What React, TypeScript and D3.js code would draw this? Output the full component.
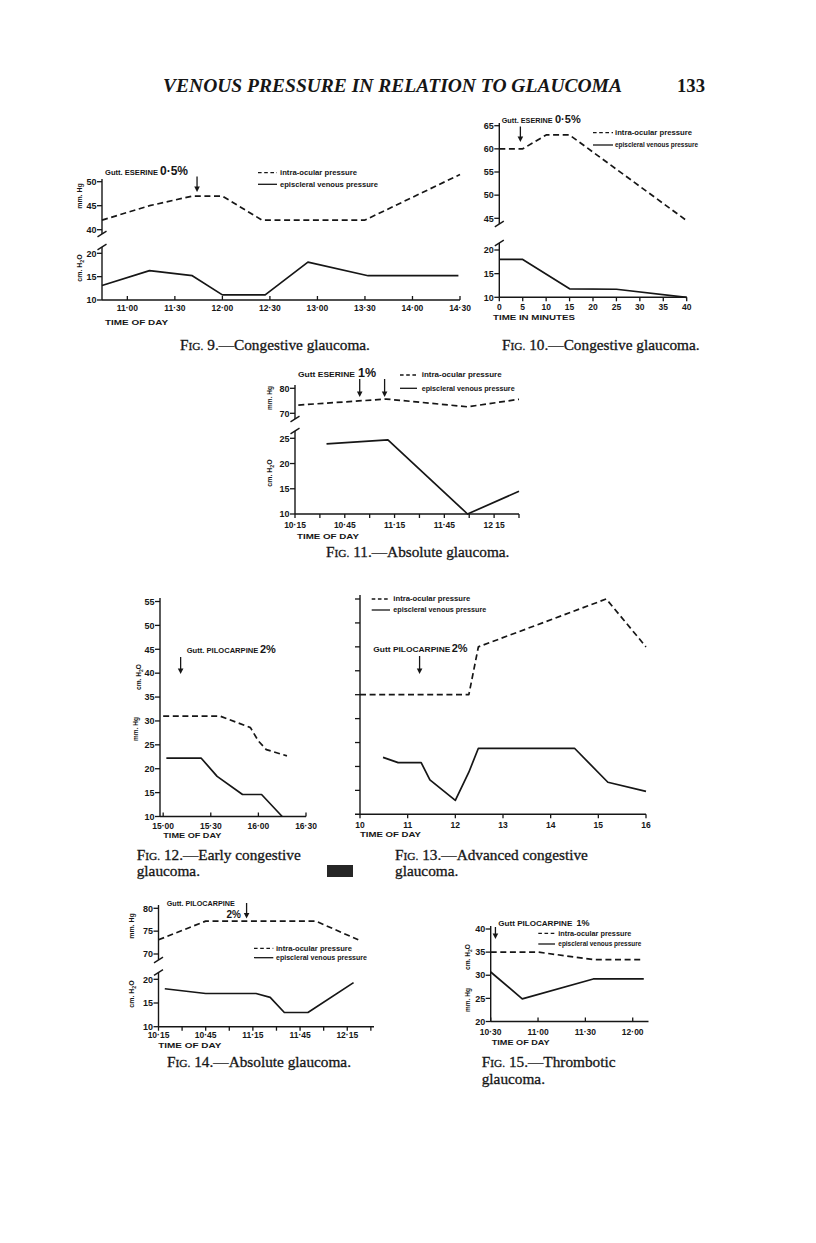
import React from 'react';
import * as d3 from 'd3';

const INK = '#161616';
const SANS = "'Liberation Sans', Arial, sans-serif";
const SERIF = "'Liberation Serif', 'Times New Roman', serif";

const t = (s: string) => { const [h, m] = s.split(':').map(Number); return h * 60 + m; };

// ---------- Fig 9 ----------
const fig9IopTimes = ['10:44', '11:14', '11:41', '12:00', '12:25', '13:30', '14:30'];
const fig9IopValues = [42, 45, 47, 47, 42, 42, 51.5];
const fig9EvpTimes = ['10:44', '11:14', '11:41', '12:00', '12:27', '12:54', '13:32', '14:29'];
const fig9EvpValues = [13.1, 16.3, 15.2, 11.1, 11.1, 18.1, 15.2, 15.2];
const fig9TickTimes = ['11:00', '11:30', '12:00', '12:30', '13:00', '13:30', '14:00', '14:30'];
const fig9TickLabels = ['11·00', '11·30', '12·00', '12·30', '13·00', '13·30', '14·00', '14·30'];
const fig9UpperTicks = [40, 45, 50];
const fig9LowerTicks = [10, 15, 20];
const fig9ArrowTimes = ['11:44'];

// ---------- Fig 10 ----------
const fig10IopMinutes = [0, 5, 10, 15, 40];
const fig10IopValues = [60, 60, 63, 63, 44.5];
const fig10EvpMinutes = [0, 5, 15, 25, 40];
const fig10EvpValues = [18, 18, 11.8, 11.7, 10];
const fig10TickMinutes = [0, 5, 10, 15, 20, 25, 30, 35, 40];
const fig10UpperTicks = [45, 50, 55, 60, 65];
const fig10LowerTicks = [10, 15, 20];
const fig10ArrowMinutes = [4.5];

// ---------- Fig 11 ----------
const fig11IopTimes = ['10:17', '11:10', '11:59', '12:30'];
const fig11IopValues = [73.3, 75.7, 72.6, 75.6];
const fig11EvpTimes = ['10:34', '11:11', '11:59', '12:30'];
const fig11EvpValues = [23.9, 24.7, 10, 14.5];
const fig11MinorTimes = ['10:15', '10:30', '10:45', '11:00', '11:15', '11:30', '11:45', '12:00', '12:15', '12:30'];
const fig11LabelTimes = ['10:15', '10:45', '11:15', '11:45', '12:15'];
const fig11TickLabels = ['10·15', '10·45', '11·15', '11·45', '12 15'];
const fig11UpperTicks = [70, 80];
const fig11LowerTicks = [10, 15, 20, 25];
const fig11ArrowTimes = ['10:54', '11:09'];

// ---------- Fig 12 ----------
const fig12IopTimes = ['15:00', '15:36', '15:55', '16:00', '16:05', '16:18'];
const fig12IopValues = [31, 31, 28.6, 25.8, 24, 22.7];
const fig12EvpTimes = ['15:02', '15:24', '15:34', '15:50', '16:02', '16:15'];
const fig12EvpValues = [22.2, 22.2, 18.4, 14.6, 14.6, 10];
const fig12TickTimes = ['15:00', '15:30', '16:00', '16:30'];
const fig12TickLabels = ['15·00', '15·30', '16·00', '16·30'];
const fig12YTicks = [10, 15, 20, 25, 30, 35, 40, 45, 50, 55];
const fig12ArrowTimes = ['15:11'];

// ---------- Fig 13 ----------
const fig13IopTimes = ['10:00', '12:17', '12:29', '15:10', '16:00'];
const fig13IopValues = [35, 35, 45, 55, 45];
const fig13EvpTimes = ['10:29', '10:48', '11:17', '11:28', '12:00', '12:17', '12:29', '14:30', '15:12', '16:00'];
const fig13EvpValues = [21.9, 20.8, 20.8, 17.2, 12.9, 18.8, 23.8, 23.8, 16.7, 14.8];
const fig13TickTimes = ['10:00', '11:00', '12:00', '13:00', '14:00', '15:00', '16:00'];
const fig13TickLabels = ['10', '11', '12', '13', '14', '15', '16'];
const fig13YTicks = [15, 20, 25, 30, 35, 40, 45, 50, 55];
const fig13ArrowTimes = ['11:15'];

// ---------- Fig 14 ----------
const fig14IopTimes = ['10:15', '10:45', '11:55', '12:22'];
const fig14IopValues = [73.1, 77.2, 77.2, 73.1];
const fig14EvpTimes = ['10:19', '10:45', '11:17', '11:26', '11:35', '11:50', '12:19'];
const fig14EvpValues = [18, 17, 17, 16.2, 13, 13, 19.3];
const fig14MinorTimes = ['10:15', '10:30', '10:45', '11:00', '11:15', '11:30', '11:45', '12:00', '12:15', '12:30'];
const fig14LabelTimes = ['10:15', '10:45', '11:15', '11:45', '12:15'];
const fig14TickLabels = ['10·15', '10·45', '11·15', '11·45', '12·15'];
const fig14UpperTicks = [70, 75, 80];
const fig14LowerTicks = [10, 15, 20];
const fig14ArrowTimes = ['11:11'];

// ---------- Fig 15 ----------
const fig15IopTimes = ['10:30', '11:00', '11:35', '12:07'];
const fig15IopValues = [35, 35, 33.4, 33.4];
const fig15EvpTimes = ['10:30', '10:50', '11:35', '12:07'];
const fig15EvpValues = [30.7, 24.9, 29.2, 29.2];
const fig15TickTimes = ['10:30', '11:00', '11:30', '12:00'];
const fig15TickLabels = ['10·30', '11·00', '11·30', '12·00'];
const fig15YTicks = [20, 25, 30, 35, 40];
const fig15ArrowTimes = ['10:33'];

type S = (v: number) => number;

function linePath(xs: number[], ys: number[], sx: S, sy: S) {
  return d3.line<number>().x(i => sx(xs[i])).y(i => sy(ys[i]))(xs.map((_, i) => i)) || '';
}

const DASH = '6,3.6';

function Series({ xs, ys, sx, sy, dashed }: { xs: number[]; ys: number[]; sx: S; sy: S; dashed?: boolean }) {
  return <path d={linePath(xs, ys, sx, sy)} fill="none" stroke={INK} strokeWidth={1.7}
    strokeDasharray={dashed ? DASH : undefined} strokeLinejoin="round" />;
}

function Slash({ x, y }: { x: number; y: number }) {
  return <line x1={x - 4.5} y1={y + 2.8} x2={x + 4.5} y2={y - 2.8} stroke={INK} strokeWidth={1.4} />;
}

function YAxis({ x, scale, ticks, top, bottom, breakTop, breakBottom, labels = true, fs = 9 }:
  { x: number; scale: S; ticks: number[]; top: number; bottom: number; breakTop?: boolean; breakBottom?: boolean; labels?: boolean; fs?: number }) {
  return (
    <g>
      <line x1={x} x2={x} y1={top} y2={bottom} stroke={INK} strokeWidth={1.4} />
      {breakTop && <Slash x={x} y={top} />}
      {breakBottom && <Slash x={x} y={bottom} />}
      {ticks.map(v => (
        <g key={v}>
          <line x1={x - 5} x2={x} y1={scale(v)} y2={scale(v)} stroke={INK} strokeWidth={1.3} />
          {labels && <text x={x - 5.5} y={scale(v)} dy="0.36em" textAnchor="end" fontSize={fs} fontWeight="bold" fill={INK}>{v}</text>}
        </g>
      ))}
    </g>
  );
}

function XAxis({ y, left, right, scale, tickVals, labelVals, labels, dir, labelY, fs = 8.5 }:
  { y: number; left: number; right: number; scale: S; tickVals: number[]; labelVals: number[]; labels: string[]; dir: number; labelY: number; fs?: number }) {
  return (
    <g>
      <line x1={left} x2={right} y1={y} y2={y} stroke={INK} strokeWidth={1.4} />
      {tickVals.map((v, i) => (
        <line key={i} x1={scale(v)} x2={scale(v)} y1={y} y2={y + dir * 4} stroke={INK} strokeWidth={1.3} />
      ))}
      {labelVals.map((v, i) => (
        <text key={i} x={scale(v)} y={labelY} textAnchor="middle" fontSize={fs} fontWeight="bold" fill={INK}>{labels[i]}</text>
      ))}
    </g>
  );
}

function Arrow({ x, y1, y2 }: { x: number; y1: number; y2: number }) {
  return (
    <g>
      <line x1={x} x2={x} y1={y1} y2={y2 - 4} stroke={INK} strokeWidth={1.3} />
      <path d={`M${x - 2.8},${y2 - 5.5}L${x + 2.8},${y2 - 5.5}L${x},${y2}Z`} fill={INK} />
    </g>
  );
}

function Legend({ x0, x1, yD, yS, tx, w1, w2, fs = 6.8 }:
  { x0: number; x1: number; yD: number; yS: number; tx: number; w1: number; w2: number; fs?: number }) {
  return (
    <g fill={INK} fontWeight="bold" fontSize={fs}>
      <line x1={x0} x2={x1} y1={yD} y2={yD} stroke={INK} strokeWidth={1.3} strokeDasharray="3.6,2.6" />
      <text x={tx} y={yD} dy="0.35em" textLength={w1} lengthAdjust="spacingAndGlyphs">intra-ocular pressure</text>
      <line x1={x0} x2={x1} y1={yS} y2={yS} stroke={INK} strokeWidth={1.3} />
      <text x={tx} y={yS} dy="0.35em" textLength={w2} lengthAdjust="spacingAndGlyphs">episcleral venous pressure</text>
    </g>
  );
}

function Note({ x, y, a, aw, b, bx, bs, by }: { x: number; y: number; a: string; aw: number; b: string; bx: number; bs: number; by?: number }) {
  return (
    <g fill={INK} fontWeight="bold">
      <text x={x} y={y} fontSize={7.6} textLength={aw} lengthAdjust="spacingAndGlyphs">{a}</text>
      <text x={bx} y={by ?? y} fontSize={bs}>{b}</text>
    </g>
  );
}

function YTitle({ x, y, kind, fs = 7 }: { x: number; y: number; kind: 'hg' | 'h2o'; fs?: number }) {
  return (
    <text transform={`translate(${x},${y}) rotate(-90)`} textAnchor="middle" dy="0.35em" fontSize={fs} fontWeight="bold" fill={INK}>
      {kind === 'hg' ? 'mm. Hg' : <>cm. H<tspan dy={2} fontSize={fs * 0.75}>2</tspan><tspan dy={-2}>O</tspan></>}
    </text>
  );
}

function TimeTitle({ x, y, text, w }: { x: number; y: number; text: string; w: number }) {
  return <text x={x} y={y} fontSize={8} fontWeight="bold" fill={INK} textLength={w} lengthAdjust="spacingAndGlyphs">{text}</text>;
}

function Caption({ x, y, num, text, line2, y2 }:
  { x: number; y: number; num: string; text: string; line2?: string; y2?: number }) {
  return (
    <g fill={INK} fontFamily={SERIF} stroke={INK} strokeWidth={0.3} fontSize={15.3}>
      <text x={x} y={y}>F<tspan fontSize={11.4}>IG.</tspan> {num}.—{text}</text>
      {line2 && <text x={x} y={y2}>{line2}</text>}
    </g>
  );
}

function Fig9() {
  const x = d3.scaleLinear().domain([t('10:44'), t('14:30')]).range([102, 460]);
  const yU = d3.scaleLinear().domain([40, 50]).range([229.7, 181.7]);
  const yL = d3.scaleLinear().domain([10, 20]).range([300, 253.3]);
  return (
    <g>
      <YAxis x={102} scale={yU} ticks={fig9UpperTicks} top={179} bottom={234} breakBottom />
      <YAxis x={102} scale={yL} ticks={fig9LowerTicks} top={247} bottom={300} breakTop />
      <XAxis y={300} left={102} right={460} scale={x} tickVals={fig9TickTimes.map(t)} labelVals={fig9TickTimes.map(t)}
        labels={fig9TickLabels} dir={-1} labelY={311} />
      <Series xs={fig9IopTimes.map(t)} ys={fig9IopValues} sx={x} sy={yU} dashed />
      <Series xs={fig9EvpTimes.map(t)} ys={fig9EvpValues} sx={x} sy={yL} />
      <YTitle x={80} y={196} kind="hg" />
      <YTitle x={80} y={268} kind="h2o" />
      <TimeTitle x={105} y={325} text="TIME OF DAY" w={63} />
      <Note x={105} y={175} a="Gutt. ESERINE" aw={53} b="0·5%" bx={160} bs={12} />
      {fig9ArrowTimes.map((a, i) => <Arrow key={i} x={x(t(a))} y1={176.5} y2={192} />)}
      <Legend x0={258} x1={277} yD={172.7} yS={184.3} tx={280} w1={77} w2={98} />
      <Caption x={180} y={350} num="9" text="Congestive glaucoma." />
    </g>
  );
}

function Fig10() {
  const x = d3.scaleLinear().domain([0, 40]).range([499.3, 686.7]);
  const yU = d3.scaleLinear().domain([45, 65]).range([218.3, 125.7]);
  const yL = d3.scaleLinear().domain([10, 20]).range([297.3, 250]);
  return (
    <g>
      <YAxis x={499.3} scale={yU} ticks={fig10UpperTicks} top={123} bottom={224} breakBottom />
      <YAxis x={499.3} scale={yL} ticks={fig10LowerTicks} top={243} bottom={297.3} breakTop />
      <XAxis y={297.3} left={499.3} right={686.7} scale={x} tickVals={fig10TickMinutes} labelVals={fig10TickMinutes}
        labels={fig10TickMinutes.map(String)} dir={1} labelY={310} />
      <Series xs={fig10IopMinutes} ys={fig10IopValues} sx={x} sy={yU} dashed />
      <Series xs={fig10EvpMinutes} ys={fig10EvpValues} sx={x} sy={yL} />
      <TimeTitle x={493} y={320} text="TIME IN MINUTES" w={82} />
      <Note x={501.7} y={123} a="Gutt. ESERINE" aw={51} b="0·5%" bx={555} bs={11} />
      {fig10ArrowMinutes.map((a, i) => <Arrow key={i} x={x(a)} y1={126.5} y2={142} />)}
      <Legend x0={593} x1={613} yD={132.7} yS={145} tx={615} w1={77} w2={83} />
      <Caption x={502} y={350} num="10" text="Congestive glaucoma." />
    </g>
  );
}

function Fig11() {
  const x = d3.scaleLinear().domain([t('10:15'), t('12:30')]).range([295, 519]);
  const yU = d3.scaleLinear().domain([70, 80]).range([413.3, 388.3]);
  const yL = d3.scaleLinear().domain([10, 25]).range([514, 438.3]);
  return (
    <g>
      <YAxis x={295} scale={yU} ticks={fig11UpperTicks} top={385} bottom={419} breakBottom />
      <YAxis x={295} scale={yL} ticks={fig11LowerTicks} top={431} bottom={514} breakTop />
      <XAxis y={514} left={295} right={519} scale={x} tickVals={fig11MinorTimes.map(t)} labelVals={fig11LabelTimes.map(t)}
        labels={fig11TickLabels} dir={1} labelY={528} />
      <Series xs={fig11IopTimes.map(t)} ys={fig11IopValues} sx={x} sy={yU} dashed />
      <Series xs={fig11EvpTimes.map(t)} ys={fig11EvpValues} sx={x} sy={yL} />
      <YTitle x={270} y={398} kind="hg" fs={6.5} />
      <YTitle x={270} y={473} kind="h2o" />
      <TimeTitle x={297} y={538.5} text="TIME OF DAY" w={62} />
      <Note x={298} y={376.7} a="Gutt ESERINE" aw={57} b="1%" bx={358} bs={12.5} />
      {fig11ArrowTimes.map((a, i) => <Arrow key={i} x={x(t(a))} y1={379} y2={397} />)}
      <Legend x0={400} x1={417} yD={375} yS={388.3} tx={421.7} w1={80} w2={93} />
      <Caption x={326} y={557} num="11" text="Absolute glaucoma." />
    </g>
  );
}

function Fig12() {
  const x = d3.scaleLinear().domain([t('14:58'), t('16:30')]).range([160, 306]);
  const y = d3.scaleLinear().domain([10, 55]).range([816.5, 601.5]);
  return (
    <g>
      <YAxis x={160} scale={y} ticks={fig12YTicks} top={598} bottom={816.5} />
      <XAxis y={816.5} left={160} right={306} scale={x} tickVals={fig12TickTimes.map(t)} labelVals={fig12TickTimes.map(t)}
        labels={fig12TickLabels} dir={-1} labelY={829} />
      <Series xs={fig12IopTimes.map(t)} ys={fig12IopValues} sx={x} sy={y} dashed />
      <Series xs={fig12EvpTimes.map(t)} ys={fig12EvpValues} sx={x} sy={y} />
      <YTitle x={138.5} y={677} kind="h2o" fs={6.6} />
      <YTitle x={136} y={729} kind="hg" fs={6.5} />
      <TimeTitle x={163.3} y={838} text="TIME OF DAY" w={58} />
      <Note x={186.7} y={653.3} a="Gutt. PILOCARPINE" aw={71.6} b="2%" bx={260} bs={11} />
      {fig12ArrowTimes.map((a, i) => <Arrow key={i} x={x(t(a))} y1={657} y2={674} />)}
      <Caption x={136.7} y={859.5} num="12" text="Early congestive" line2="glaucoma." y2={876} />
      <rect x={327} y={865} width={26} height={12} fill="#262626" />
    </g>
  );
}

function Fig13() {
  const x = d3.scaleLinear().domain([t('10:00'), t('16:00')]).range([360, 646]);
  const y = d3.scaleLinear().domain([10, 55]).range([814.3, 599]);
  return (
    <g>
      <YAxis x={360} scale={y} ticks={fig13YTicks} top={595} bottom={814.3} labels={false} />
      <XAxis y={814.3} left={355} right={646} scale={x} tickVals={fig13TickTimes.map(t)} labelVals={fig13TickTimes.map(t)}
        labels={fig13TickLabels} dir={1} labelY={828} />
      <Series xs={fig13IopTimes.map(t)} ys={fig13IopValues} sx={x} sy={y} dashed />
      <Series xs={fig13EvpTimes.map(t)} ys={fig13EvpValues} sx={x} sy={y} />
      <TimeTitle x={360} y={837} text="TIME OF DAY" w={61} />
      <Note x={373.3} y={651.7} a="Gutt PILOCARPINE" aw={77} b="2%" bx={451.7} bs={11} />
      {fig13ArrowTimes.map((a, i) => <Arrow key={i} x={x(t(a))} y1={656} y2={674} />)}
      <Legend x0={371.7} x1={390} yD={599} yS={610} tx={393.3} w1={77} w2={93} />
      <Caption x={395} y={859.5} num="13" text="Advanced congestive" line2="glaucoma." y2={876} />
    </g>
  );
}

function Fig14() {
  const x = d3.scaleLinear().domain([t('10:15'), t('12:32')]).range([158.5, 374]);
  const yU = d3.scaleLinear().domain([70, 80]).range([954, 908.3]);
  const yL = d3.scaleLinear().domain([10, 20]).range([1026.7, 979.3]);
  return (
    <g>
      <YAxis x={158.5} scale={yU} ticks={fig14UpperTicks} top={905} bottom={960} breakBottom />
      <YAxis x={158.5} scale={yL} ticks={fig14LowerTicks} top={972.5} bottom={1026.7} breakTop />
      <XAxis y={1026.7} left={158.5} right={374} scale={x} tickVals={fig14MinorTimes.map(t)} labelVals={fig14LabelTimes.map(t)}
        labels={fig14TickLabels} dir={1} labelY={1037.5} />
      <Series xs={fig14IopTimes.map(t)} ys={fig14IopValues} sx={x} sy={yU} dashed />
      <Series xs={fig14EvpTimes.map(t)} ys={fig14EvpValues} sx={x} sy={yL} />
      <YTitle x={132} y={926} kind="hg" />
      <YTitle x={132} y={994} kind="h2o" />
      <TimeTitle x={158.3} y={1048} text="TIME OF DAY" w={63} />
      <Note x={166.7} y={906} a="Gutt. PILOCARPINE" aw={68} b="2%" bx={226.5} by={917.5} bs={10} />
      {fig14ArrowTimes.map((a, i) => <Arrow key={i} x={x(t(a))} y1={903} y2={918.5} />)}
      <Legend x0={254} x1={273.3} yD={948.3} yS={957.7} tx={276} w1={76} w2={91} />
      <Caption x={167} y={1066.7} num="14" text="Absolute glaucoma." />
    </g>
  );
}

function Fig15() {
  const x = d3.scaleLinear().domain([t('10:30'), t('12:10')]).range([490.7, 648.5]);
  const y = d3.scaleLinear().domain([20, 40]).range([1021.5, 929]);
  return (
    <g>
      <YAxis x={490.7} scale={y} ticks={fig15YTicks} top={926} bottom={1021.5} />
      <XAxis y={1021.5} left={490.7} right={648.5} scale={x} tickVals={fig15TickTimes.map(t)} labelVals={fig15TickTimes.map(t)}
        labels={fig15TickLabels} dir={-1} labelY={1034.5} />
      <Series xs={fig15IopTimes.map(t)} ys={fig15IopValues} sx={x} sy={y} dashed />
      <Series xs={fig15EvpTimes.map(t)} ys={fig15EvpValues} sx={x} sy={y} />
      <YTitle x={468} y={957} kind="h2o" fs={6.6} />
      <YTitle x={468} y={1000} kind="hg" fs={6.5} />
      <TimeTitle x={491.7} y={1045} text="TIME OF DAY" w={58} />
      <Note x={498.3} y={926} a="Gutt PILOCARPINE" aw={74} b="1%" bx={576.5} bs={9} />
      {fig15ArrowTimes.map((a, i) => <Arrow key={i} x={x(t(a))} y1={927} y2={939} />)}
      <Legend x0={538.3} x1={555} yD={933.3} yS={944} tx={558.3} w1={73} w2={83} />
      <Caption x={481.7} y={1067} num="15" text="Thrombotic" line2="glaucoma." y2={1083.5} />
    </g>
  );
}

export default function App() {
  return (
    <svg width={816} height={1243} viewBox="0 0 816 1243" style={{ position: 'absolute', left: 0, top: 0 }} fontFamily={SANS}>
      <rect width={816} height={1243} fill="#ffffff" />
      <text x={163} y={92} fontFamily={SERIF} fontStyle="italic" fontWeight="bold" fontSize={19} fill={INK}
        textLength={459} lengthAdjust="spacingAndGlyphs">VENOUS PRESSURE IN RELATION TO GLAUCOMA</text>
      <text x={677} y={92} fontFamily={SERIF} fontWeight="bold" fontSize={19} fill={INK}
        textLength={28} lengthAdjust="spacingAndGlyphs">133</text>
      <Fig9 />
      <Fig10 />
      <Fig11 />
      <Fig12 />
      <Fig13 />
      <Fig14 />
      <Fig15 />
    </svg>
  );
}
